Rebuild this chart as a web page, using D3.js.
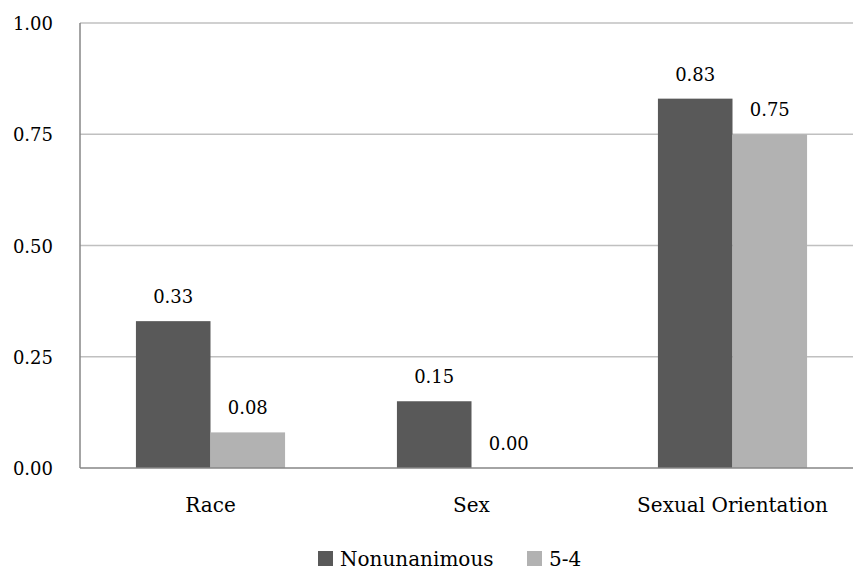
<!DOCTYPE html>
<html>
<head>
<meta charset="utf-8">
<script src="https://cdn.jsdelivr.net/npm/d3@7"></script>
<style>
  body { margin: 0; background: #fff; }
  svg text { font-family: "DejaVu Serif"; fill: #000; }
</style>
</head>
<body>
<svg id="chart" width="853" height="573"></svg>
<script>
// data
const categories = ["Race", "Sex", "Sexual Orientation"];
const seriesNames = ["Nonunanimous", "5-4"];
const nonunanimous = [0.33, 0.15, 0.83];
const fiveFour = [0.08, 0.00, 0.75];
const yTicks = [0, 0.25, 0.5, 0.75, 1];
const colors = ["#595959", "#b2b2b2"];

const svg = d3.select("#chart");
const margin = { top: 23, left: 80, bottom: 105 };
const plotRight = 863;
const height = 573;

const x = d3.scaleBand().domain(categories).range([margin.left, plotRight]).paddingInner(0).paddingOuter(0);
const xInner = d3.scaleBand().domain(seriesNames).range([0, x.bandwidth()]).paddingOuter(0.75).paddingInner(0);
const y = d3.scaleLinear().domain([0, 1]).range([height - margin.bottom, margin.top]);

const rows = categories.map((c, i) => ({ cat: c, values: [nonunanimous[i], fiveFour[i]] }));

// gridlines
svg.append("g")
  .selectAll("line")
  .data(yTicks.filter(d => d > 0))
  .join("line")
  .attr("x1", margin.left).attr("x2", plotRight)
  .attr("y1", d => y(d)).attr("y2", d => y(d))
  .attr("stroke", "#c0c0c0").attr("stroke-width", 1.3);

// y tick labels
svg.append("g")
  .selectAll("text")
  .data(yTicks)
  .join("text")
  .attr("x", 53)
  .attr("y", d => y(d) + 7)
  .attr("text-anchor", "end")
  .attr("font-size", 18)
  .text(d => d3.format(".2f")(d));

// bars
const groups = svg.append("g")
  .selectAll("g")
  .data(rows)
  .join("g")
  .attr("transform", d => `translate(${x(d.cat)},0)`);

groups.selectAll("rect")
  .data(d => d.values.map((v, i) => ({ key: seriesNames[i], v: v, i: i })))
  .join("rect")
  .attr("x", d => xInner(d.key))
  .attr("width", xInner.bandwidth())
  .attr("y", d => y(d.v))
  .attr("height", d => y(0) - y(d.v))
  .attr("fill", d => colors[d.i]);

groups.selectAll("text")
  .data(d => d.values.map((v, i) => ({ key: seriesNames[i], v: v })))
  .join("text")
  .attr("x", d => xInner(d.key) + xInner.bandwidth() / 2)
  .attr("y", d => y(d.v) - 18)
  .attr("text-anchor", "middle")
  .attr("font-size", 18)
  .text(d => d3.format(".2f")(d.v));

// axes lines
svg.append("line")
  .attr("x1", margin.left).attr("x2", margin.left)
  .attr("y1", y(1)).attr("y2", y(0))
  .attr("stroke", "#868686").attr("stroke-width", 1.5);
svg.append("line")
  .attr("x1", margin.left).attr("x2", plotRight)
  .attr("y1", y(0)).attr("y2", y(0))
  .attr("stroke", "#868686").attr("stroke-width", 1.5);

// category labels
svg.append("g")
  .selectAll("text")
  .data(categories)
  .join("text")
  .attr("x", d => x(d) + x.bandwidth() / 2)
  .attr("y", 512)
  .attr("text-anchor", "middle")
  .attr("font-size", 20)
  .text(d => d);

// legend
const legend = svg.append("g").attr("transform", "translate(318,551)");
const legendX = [0, 209];
seriesNames.forEach((name, i) => {
  const g = legend.append("g").attr("transform", `translate(${legendX[i]},0)`);
  g.append("rect").attr("width", 15).attr("height", 15).attr("fill", colors[i]);
  g.append("text").attr("x", 22).attr("y", 15).attr("font-size", 20).text(name);
});
</script>
</body>
</html>
